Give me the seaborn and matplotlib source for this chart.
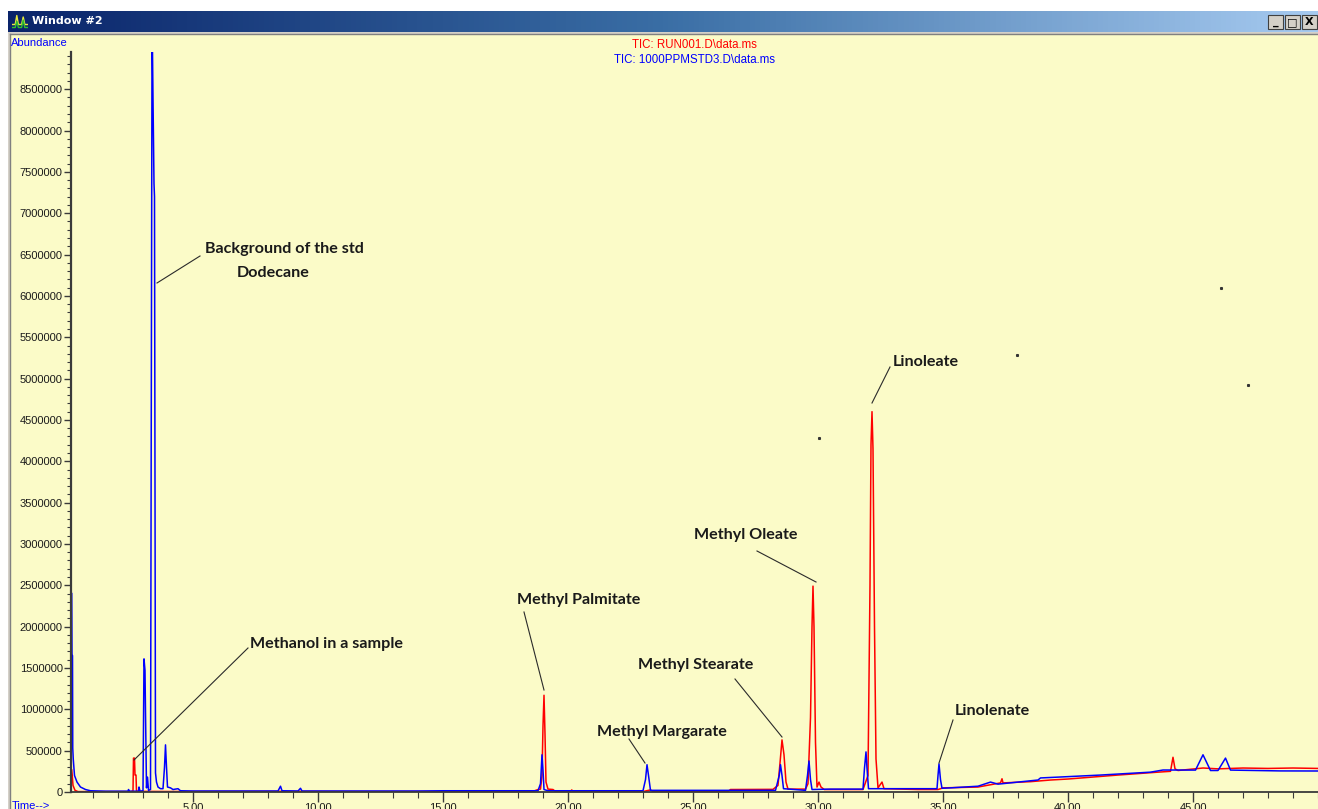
import numpy as np
import pandas as pd
import matplotlib
matplotlib.use("Agg")
import matplotlib.pyplot as plt
from matplotlib.patches import Rectangle
from matplotlib.lines import Line2D
from matplotlib.ticker import MultipleLocator, FixedLocator
from matplotlib.colors import LinearSegmentedColormap
import seaborn as sns

# ---------------- data ----------------
red_time = [0.15, 0.17, 0.20, 0.28, 0.40, 1.0, 2.5, 2.60, 2.62, 2.66, 2.68, 2.72, 2.74, 4.0, 8.0,
            9.5, 12.0, 18.6, 18.8, 18.9, 18.96, 19.0, 19.04, 19.08, 19.12, 19.2, 19.4, 19.5, 20.1,
            20.15, 20.2, 23.0, 23.3, 23.4, 26.4, 26.5, 28.2, 28.4, 28.48, 28.56, 28.64, 28.72, 28.8,
            29.5, 29.6, 29.7, 29.76, 29.8, 29.84, 29.9, 29.96, 30.04, 30.12, 30.25, 31.8, 32.0,
            32.08, 32.12, 32.16, 32.2, 32.26, 32.32, 32.4, 32.56, 32.64, 34.0, 34.8, 35.0, 36.4,
            37.3, 37.36, 37.4, 38.5, 39.3, 40.0, 42.0, 43.6, 44.1, 44.2, 44.28, 44.4, 45.4, 46.0,
            47.0, 48.0, 49.0, 50.0]
red_abund = [266000, 200000, 80000, 20000, 5000, 5000, 5000, 10000, 410000, 410000, 205000, 205000,
             8000, 6000, 8000, 8000, 6000, 8000, 30000, 35000, 200000, 800000, 1170000, 700000,
             120000, 35000, 30000, 6000, 6000, 25000, 6000, 6000, 25000, 6000, 6000, 30000, 32000,
             80000, 350000, 630000, 450000, 120000, 35000, 35000, 100000, 900000, 2000000, 2490000,
             2000000, 600000, 60000, 120000, 60000, 30000, 30000, 200000, 2500000, 4200000,
             4600000, 4150000, 2000000, 400000, 50000, 120000, 40000, 30000, 30000, 50000, 60000,
             110000, 160000, 110000, 125000, 145000, 157000, 205000, 240000, 250000, 420000,
             280000, 260000, 290000, 280000, 290000, 285000, 290000, 285000]

blue_time = [0.15, 0.16, 0.18, 0.19, 0.21, 0.26, 0.36, 0.5, 0.7, 0.9, 1.5, 2.4, 2.42, 2.46, 2.82,
             2.84, 2.88, 3.0, 3.04, 3.08, 3.10, 3.14, 3.18, 3.22, 3.30, 3.36, 3.38, 3.40, 3.44,
             3.46, 3.50, 3.54, 3.6, 3.7, 3.8, 3.86, 3.9, 3.94, 3.98, 4.1, 4.2, 4.4, 4.5, 5.0, 8.4,
             8.5, 8.56, 9.2, 9.3, 9.36, 14.0, 15.0, 18.8, 18.9, 18.96, 19.0, 19.04, 19.2, 23.0,
             23.1, 23.16, 23.22, 23.3, 28.3, 28.45, 28.5, 28.56, 28.62, 29.5, 29.58, 29.64, 29.7,
             29.76, 30.5, 31.8, 31.86, 31.92, 31.96, 32.02, 34.0, 34.76, 34.8, 34.84, 34.9, 34.96,
             35.3, 36.4, 36.9, 37.2, 38.0, 38.8, 38.9, 39.6, 41.3, 43.3, 43.8, 45.1, 45.4, 45.7,
             46.0, 46.3, 46.5, 47.5, 48.5, 50.0]
blue_abund = [2400000, 1650000, 1650000, 530000, 400000, 200000, 120000, 60000, 30000, 15000,
              10000, 10000, 30000, 10000, 10000, 60000, 10000, 15000, 1610000, 1470000, 970000,
              50000, 180000, 20000, 30000, 8950000, 8950000, 8380000, 7360000, 7200000, 230000,
              120000, 60000, 40000, 40000, 300000, 570000, 300000, 60000, 50000, 30000, 40000,
              15000, 12000, 12000, 70000, 15000, 12000, 45000, 12000, 12000, 15000, 15000, 100000,
              450000, 266000, 30000, 15000, 15000, 150000, 330000, 200000, 20000, 20000, 200000,
              330000, 200000, 40000, 20000, 200000, 375000, 150000, 30000, 35000, 35000, 290000,
              485000, 290000, 40000, 40000, 40000, 200000, 340000, 150000, 45000, 50000, 70000,
              120000, 95000, 120000, 145000, 170000, 180000, 205000, 240000, 266000, 265000,
              450000, 260000, 260000, 410000, 265000, 260000, 255000, 254000]

trace_names = ["TIC: RUN001.D\\data.ms", "TIC: 1000PPMSTD3.D\\data.ms"]
trace_colors = ["#FF0000", "#0000FF"]

y_major_ticks = list(range(500000, 8500001, 500000))
x_tick_values = [5, 10, 15, 20, 25, 30, 35, 40, 45]

annotations = [
    # text, text x px, text y px, line start px, line end px
    ("Background of the std", 205, 249, (200, 256), (157, 283)),
    ("Dodecane", 237, 273, None, None),
    ("Methanol in a sample", 250, 644, (248, 648), (134, 760)),
    ("Methyl Palmitate", 517, 600, (524, 612), (544, 690)),
    ("Methyl Margarate", 597, 732, (629, 739), (645, 763)),
    ("Methyl Stearate", 638, 665, (735, 679), (782, 737)),
    ("Methyl Oleate", 694, 535, (757, 551), (816, 582)),
    ("Linoleate", 893, 362, (890, 367), (872, 403)),
    ("Linolenate", 955, 711, (953, 720), (939, 763)),
]

# ---------------- figure ----------------
W, H = 1318, 809
YELLOW = "#FBFBC8"


def fx(px):
    return px / W


def fy(py):
    return 1 - py / H


fig = plt.figure(figsize=(W / 100, H / 100), dpi=100, facecolor="white")

# window body
fig.patches.append(Rectangle((fx(8), 0), 1, fy(32), transform=fig.transFigure,
                             facecolor="#D4D0C8", edgecolor="none", zorder=-3))
fig.patches.append(Rectangle((fx(11), 0), 1, fy(35), transform=fig.transFigure,
                             facecolor=YELLOW, edgecolor="none", zorder=-2))
fig.add_artist(Line2D([fx(10), fx(10)], [0, fy(34)], transform=fig.transFigure,
                      color="#808080", lw=1.0, zorder=-1))
fig.add_artist(Line2D([fx(10), 1], [fy(34), fy(34)], transform=fig.transFigure,
                      color="#808080", lw=1.0, zorder=-1))

# title bar gradient
tb = fig.add_axes([fx(8), fy(32), 1 - fx(8), (32 - 11) / H])
grad = np.linspace(0, 1, 256).reshape(1, -1)
cmap = LinearSegmentedColormap.from_list("tb", ["#0A246A", "#3A6EA5", "#A6CAF0"])
tb.imshow(grad, aspect="auto", cmap=cmap, extent=[0, 1, 0, 1])
tb.set_axis_off()
fig.text(fx(32), fy(21.5), "Window #2", color="white", fontsize=8, fontweight="bold",
         family="DejaVu Sans", va="center", ha="left")

# icon
ic = fig.add_axes([fx(12), fy(29), 16 / W, 15 / H])
ic.set_facecolor("#0A246A")
ic.plot([0, 2, 3, 4, 6, 7, 8, 10], [2, 2, 8, 2, 2, 7, 2, 2], color="#E8E840", lw=1)
ic.plot([0, 2, 3, 4, 6, 7, 8, 10], [0, 0, 4, 0, 0, 5, 0, 0], color="#30C030", lw=1)
ic.set_xlim(0, 10)
ic.set_ylim(-1, 9)
ic.set_axis_off()

# window buttons
for bx, sym in [(1268, "_"), (1285, "□"), (1302, "X")]:
    fig.patches.append(Rectangle((fx(bx), fy(29)), 15 / W, 14 / H, transform=fig.transFigure,
                                 facecolor="#D4D0C8", edgecolor="#404040", lw=0.8, zorder=3))
    fig.text(fx(bx + 7.5), fy(22), sym, fontsize=8, fontweight="bold", color="black",
             ha="center", va="center", zorder=4, family="DejaVu Sans")

# ---------------- main axes ----------------
ax = fig.add_axes([fx(71), fy(792), 1 - fx(71), (792 - 52) / H])
ax.set_facecolor(YELLOW)

frames = []
for name, t, a in [(trace_names[0], red_time, red_abund), (trace_names[1], blue_time, blue_abund)]:
    frames.append(pd.DataFrame({"time": t, "abundance": a, "trace": name}))
df = pd.concat(frames, ignore_index=True)

sns.lineplot(data=df, x="time", y="abundance", hue="trace", hue_order=trace_names,
             palette=dict(zip(trace_names, trace_colors)), estimator=None, sort=False,
             linewidth=1.1, legend=False, ax=ax)

ax.set_xlim(0.12, 50.0)
ax.set_ylim(0, 8950000)
ax.set_xlabel("")
ax.set_ylabel("")

for s in ["top", "right"]:
    ax.spines[s].set_visible(False)
ax.spines["left"].set_color("#3A3A3A")
ax.spines["left"].set_linewidth(1.6)
ax.spines["bottom"].set_color("#3A3A3A")
ax.spines["bottom"].set_linewidth(1.3)

ax.yaxis.set_major_locator(FixedLocator([0] + y_major_ticks))
ax.set_yticklabels(["0"] + [str(v) for v in y_major_ticks])
ax.yaxis.set_minor_locator(MultipleLocator(100000))
ax.xaxis.set_major_locator(FixedLocator(x_tick_values))
ax.set_xticklabels([f"{v:.2f}" for v in x_tick_values])
ax.xaxis.set_minor_locator(MultipleLocator(1))

ax.tick_params(axis="y", which="major", length=5, width=1, color="#3A3A3A", pad=1,
               labelsize=8, labelcolor="#1A1A1A")
ax.tick_params(axis="y", which="minor", length=3, width=0.8, color="#3A3A3A")
ax.tick_params(axis="x", which="major", length=7, width=1, color="#3A3A3A", pad=1,
               labelsize=8, labelcolor="#1A1A1A")
ax.tick_params(axis="x", which="minor", length=4, width=0.8, color="#3A3A3A")
for lab in ax.get_yticklabels() + ax.get_xticklabels():
    lab.set_family("Liberation Sans")

# header texts
fig.text(fx(11), fy(43), "Abundance", color="#0000FF", fontsize=8, family="Liberation Sans",
         ha="left", va="center")
fig.text(fx(694), fy(45), trace_names[0], color="#FF0000", fontsize=8.3,
         family="Liberation Sans", ha="center", va="center")
fig.text(fx(694), fy(60), trace_names[1], color="#0000FF", fontsize=8.3,
         family="Liberation Sans", ha="center", va="center")
fig.text(fx(12), fy(806), "Time-->", color="#0000FF", fontsize=8, family="Liberation Sans",
         ha="left", va="center")

# annotations
for text, tx, ty, p0, p1 in annotations:
    fig.text(fx(tx), fy(ty), text, fontsize=11.6, fontweight="bold", family="Lato",
             color="#1A1A1A", ha="left", va="center")
    if p0 is not None:
        fig.add_artist(Line2D([fx(p0[0]), fx(p1[0])], [fy(p0[1]), fy(p1[1])],
                              transform=fig.transFigure, color="#2A2A2A", lw=0.8))

# stray dots in the screenshot
for dx, dy in [(1221, 288), (1017, 355), (1248, 385), (819, 438)]:
    fig.add_artist(Line2D([fx(dx)], [fy(dy)], transform=fig.transFigure, marker="s",
                          markersize=1.2, color="#333333", lw=0))

fig.savefig("out.png", dpi=100, facecolor="white")
